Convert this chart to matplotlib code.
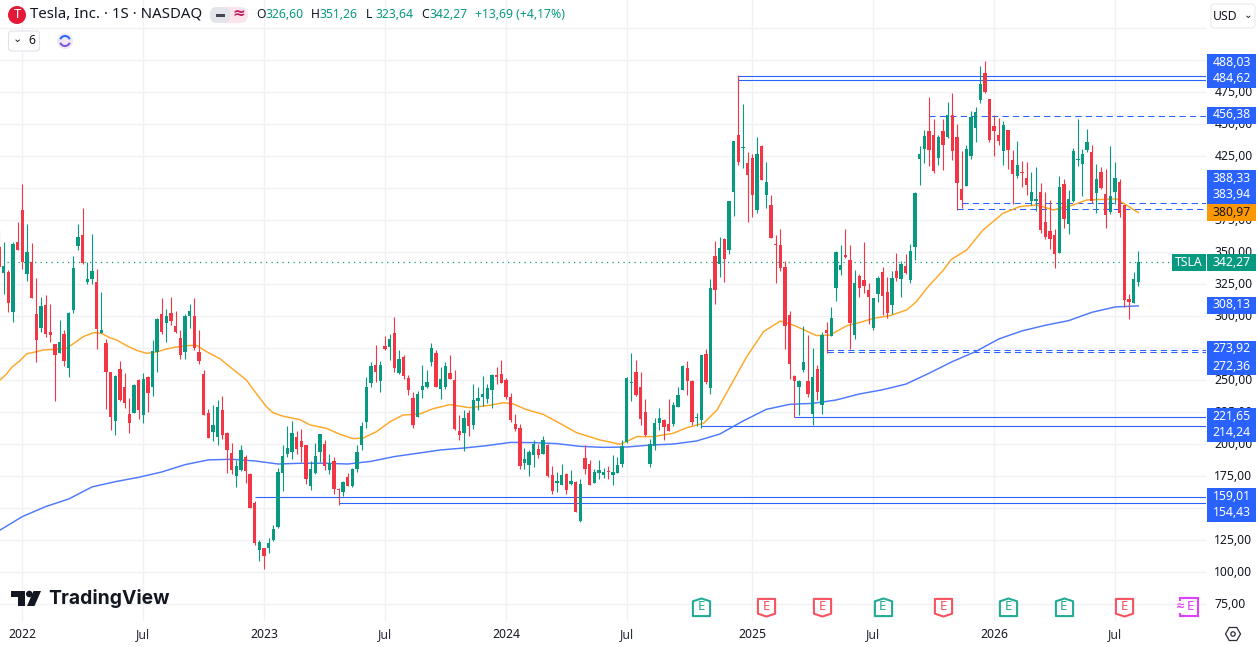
import numpy as np
import matplotlib
matplotlib.use('Agg')
import matplotlib.pyplot as plt
from matplotlib.patches import Rectangle, Circle, Polygon, FancyBboxPatch, RegularPolygon, Arc
from matplotlib.path import Path
from matplotlib.transforms import Affine2D, ScaledTranslation

plt.rcParams['font.family'] = ['Noto Sans', 'DejaVu Sans']

# weekly TSLA candles, week 0 is the first one of 2022
first_week = -5
last_week = 240

directions = (
    "rgrgr"
    "rgrrgrrrgr" "gggrggrgrr" "grrrgrgrgg" "rgrrrggrrr" "rggrrrggrr" "rgrggggggr"
    "rrgggrgrrg" "rgggggrgrg" "rgrrrggggr" "ggrrrgrggg" "ggrrrrrrgg" "grgrrggrgr"
    "grrgggrggg" "ggrrrgggrr" "gggrrggrgr" "grggrgrrgr" "grrrrrrggr" "grgrgggrrg"
    "rrrggrrgrg" "rggggrrgrg" "rrrggggrrr" "rgrrgrrggr" "rrrgrggggg" "rgrrggrrrg"
    "g"
)

highs = [
    367.4, 358.3, 336.2, 358.3, 373.9,
    403.4, 372.1, 357.3, 329.9, 315.1, 316.6, 309.6, 278.4, 297.1, 289.3,
    303.4, 347.1, 372.1, 384.6, 342.4, 364.3, 337.0, 319.0, 282.3, 256.8,
    254.2, 265.1, 255.7, 236.2, 247.1, 251.0, 255.7, 253.4, 281.5, 298.7,
    314.3, 305.7, 315.1, 304.2, 289.3, 301.8, 309.6, 314.3, 289.3, 258.1,
    227.6, 230.7, 234.6, 237.7, 209.6, 201.0, 187.8, 199.5, 191.7, 177.6,
    155.7, 125.3, 119.0, 126.8, 137.0, 181.2, 199.5, 214.3, 218.2, 210.4,
    212.0, 199.5, 187.0, 201.0, 208.1, 203.4, 192.4, 190.1, 165.9, 171.3,
    177.6, 181.5, 199.5, 217.5, 252.6, 264.3, 277.6, 265.1, 284.6, 286.2,
    299.5, 273.7, 269.8, 254.2, 240.9, 241.7, 262.0, 258.1, 279.2, 273.7,
    260.4, 264.3, 269.8, 258.1, 222.9, 226.8, 226.8, 247.1, 244.8, 253.4,
    247.1, 255.0, 260.4, 265.9, 251.8, 240.1, 223.7, 215.9, 197.1, 195.6,
    203.4, 200.2, 206.5, 200.2, 183.1, 178.4, 184.6, 177.6, 180.0, 171.3,
    172.9, 199.2, 187.8, 180.7, 187.8, 181.2, 183.1, 191.7, 190.4, 203.4,
    252.6, 271.3, 265.9, 256.5, 235.4, 204.1, 220.5, 228.4, 219.7, 235.4,
    233.0, 244.8, 262.0, 265.1, 250.2, 224.4, 269.8, 274.4, 329.1, 358.8,
    361.9, 361.1, 390.1, 436.9, 488.5, 465.8, 428.3, 426.8, 440.1, 433.8,
    420.5, 394.7, 363.5, 368.2, 343.2, 304.1, 254.1, 250.2, 292.4, 285.4,
    275.2, 261.9, 287.7, 295.5, 307.3, 351.0, 355.7, 368.2, 355.7, 336.2,
    333.1, 358.1, 326.0, 314.3, 331.5, 338.6, 330.7, 335.4, 349.5, 343.2,
    348.7, 356.5, 397.1, 433.1, 445.6, 471.4, 454.2, 441.7, 454.2, 467.4,
    474.5, 450.3, 429.2, 433.9, 460.4, 463.5, 495.6, 499.5, 469.8, 457.3,
    454.9, 452.6, 445.6, 430.0, 437.0, 421.4, 420.6, 412.8, 416.7, 404.2,
    397.1, 390.9, 368.2, 409.6, 407.3, 398.7, 431.5, 454.2, 430.7, 446.4,
    433.9, 419.0, 416.7, 415.1, 433.1, 420.6, 407.3, 387.0, 317.5, 334.6,
    351.26,
]

body_tops = [
    354.4, 339.3, 334.9, 356.5, 358.0,
    383.1, 350.2, 342.4, 301.8, 308.1, 308.8, 287.7, 278.4, 279.9, 286.2,
    302.8, 337.7, 362.0, 363.5, 329.1, 335.4, 326.8, 289.3, 279.2, 256.5,
    253.4, 258.8, 244.8, 223.7, 246.3, 250.2, 251.0, 252.6, 272.9, 297.9,
    301.8, 300.2, 302.6, 292.4, 283.1, 300.2, 304.2, 300.2, 272.1, 254.9,
    224.5, 215.1, 229.2, 226.8, 208.8, 193.2, 183.1, 195.6, 190.1, 176.8,
    154.2, 123.7, 119.0, 122.9, 133.8, 178.4, 190.9, 197.1, 208.8, 205.7,
    202.6, 199.5, 180.7, 190.9, 208.1, 200.2, 185.4, 187.0, 165.1, 170.6,
    174.5, 180.7, 194.0, 214.3, 244.8, 261.2, 262.0, 262.0, 276.8, 282.3,
    287.0, 266.7, 268.2, 251.8, 236.2, 239.3, 245.6, 248.7, 275.2, 271.4,
    251.0, 261.2, 255.7, 250.3, 210.4, 220.6, 224.5, 234.6, 236.2, 239.3,
    244.0, 254.2, 254.2, 254.9, 250.3, 237.0, 215.9, 212.8, 188.5, 194.0,
    200.2, 196.4, 203.4, 199.5, 176.0, 171.3, 176.0, 176.8, 171.3, 170.6,
    169.0, 189.3, 184.6, 178.4, 180.0, 178.6, 178.6, 178.4, 183.9, 198.7,
    251.8, 248.7, 256.5, 244.8, 225.2, 200.2, 216.6, 220.5, 218.9, 215.9,
    230.7, 238.5, 261.2, 259.6, 249.4, 221.3, 269.8, 270.5, 322.1, 347.1,
    353.3, 360.4, 390.1, 436.9, 441.6, 432.2, 419.7, 423.7, 426.8, 433.0,
    404.9, 386.9, 356.5, 355.7, 338.5, 301.0, 253.4, 249.4, 264.3, 249.4,
    252.6, 258.8, 285.4, 289.3, 298.7, 350.2, 340.1, 347.9, 344.0, 326.0,
    331.5, 328.4, 320.6, 314.3, 329.9, 334.6, 319.0, 329.9, 335.4, 340.9,
    339.3, 351.1, 396.4, 426.8, 440.9, 444.8, 441.7, 440.1, 444.8, 457.3,
    457.3, 440.1, 399.5, 430.7, 455.7, 459.6, 481.5, 490.1, 469.8, 448.7,
    441.7, 449.5, 445.6, 422.1, 418.2, 412.8, 408.1, 397.1, 391.7, 397.1,
    373.7, 366.7, 363.5, 401.0, 403.4, 391.7, 429.2, 422.9, 426.8, 436.2,
    428.4, 407.3, 412.8, 395.6, 394.0, 408.1, 404.9, 387.0, 313.6, 329.2,
    342.27,
]

body_bottoms = [
    338.8, 334.1, 310.7, 303.4, 351.8,
    342.2, 333.0, 314.3, 281.5, 290.9, 286.2, 285.4, 269.8, 271.3, 265.1,
    259.6, 305.0, 354.9, 341.4, 326.8, 329.1, 290.1, 287.0, 256.5, 221.3,
    218.2, 234.6, 232.3, 216.7, 224.5, 226.8, 222.9, 240.1, 244.8, 272.1,
    287.7, 294.8, 296.3, 287.7, 269.8, 272.1, 300.2, 275.2, 265.1, 222.9,
    205.0, 209.6, 205.7, 207.3, 195.6, 180.0, 175.3, 180.0, 179.2, 150.2,
    122.9, 117.4, 112.8, 119.0, 125.3, 135.4, 177.6, 192.4, 194.0, 196.3,
    197.9, 172.9, 167.4, 177.6, 194.0, 183.1, 180.0, 165.1, 164.3, 162.8,
    167.4, 167.4, 180.7, 199.5, 217.5, 247.9, 256.5, 249.5, 274.5, 276.0,
    259.6, 255.7, 253.4, 242.4, 215.1, 221.3, 242.4, 244.8, 264.3, 244.8,
    243.2, 244.8, 251.0, 212.0, 207.3, 208.9, 214.3, 215.1, 233.9, 237.0,
    235.4, 242.4, 252.6, 247.9, 237.0, 219.0, 212.0, 183.1, 185.4, 183.9,
    191.7, 191.7, 192.4, 175.3, 163.5, 169.8, 168.2, 164.3, 169.0, 147.1,
    140.1, 180.7, 168.2, 169.8, 177.6, 176.0, 178.1, 176.0, 177.9, 184.6,
    201.8, 247.9, 238.5, 219.8, 207.3, 184.6, 198.7, 216.6, 213.5, 210.4,
    215.9, 229.1, 242.4, 249.4, 217.4, 220.8, 219.0, 248.7, 244.0, 320.5,
    340.8, 344.8, 351.8, 397.1, 420.5, 431.7, 410.4, 394.7, 383.0, 406.5,
    394.7, 361.2, 355.7, 337.7, 292.4, 262.7, 249.4, 244.8, 258.0, 239.3,
    223.7, 240.9, 230.7, 286.9, 284.6, 322.1, 336.2, 346.4, 294.8, 285.4,
    322.1, 323.7, 315.1, 290.9, 317.5, 315.9, 302.6, 308.9, 329.9, 329.2,
    333.9, 328.4, 354.2, 422.9, 430.7, 430.0, 413.5, 423.7, 433.9, 440.1,
    429.2, 404.2, 390.9, 401.8, 425.3, 447.1, 469.0, 475.3, 437.8, 444.8,
    437.0, 429.2, 430.0, 411.2, 409.6, 412.0, 402.6, 390.1, 390.1, 367.4,
    362.0, 360.4, 348.7, 349.8, 376.0, 372.1, 390.1, 422.1, 419.0, 430.0,
    390.1, 396.4, 400.3, 379.2, 381.5, 397.1, 380.7, 312.8, 311.2, 310.4,
    326.60,
]

lows = [
    333.6, 317.4, 303.6, 295.6, 351.8,
    337.0, 327.6, 314.3, 264.3, 287.7, 283.8, 279.9, 234.1, 271.3, 261.2,
    252.6, 302.6, 351.8, 340.9, 325.2, 325.2, 274.5, 286.7, 227.6, 211.2,
    207.3, 233.8, 228.4, 208.8, 224.5, 219.8, 216.7, 225.2, 237.8, 256.5,
    286.2, 279.9, 293.2, 287.0, 266.7, 266.7, 290.9, 273.7, 262.7, 222.9,
    205.0, 202.6, 199.5, 204.2, 177.6, 176.8, 166.7, 179.2, 169.8, 150.2,
    121.3, 108.8, 102.6, 115.1, 124.5, 134.6, 163.5, 190.1, 188.5, 192.4,
    186.2, 169.0, 164.3, 176.8, 186.2, 180.0, 176.8, 161.2, 152.6, 159.4,
    167.4, 166.7, 178.4, 195.6, 212.8, 244.8, 248.7, 240.9, 273.7, 265.9,
    256.5, 254.9, 251.0, 238.5, 212.8, 221.3, 236.2, 244.0, 261.2, 244.8,
    235.4, 243.2, 251.0, 211.2, 203.4, 194.8, 206.5, 212.0, 226.8, 229.9,
    232.3, 228.4, 247.1, 247.9, 235.4, 217.4, 210.4, 180.7, 180.7, 175.3,
    182.3, 189.3, 192.4, 174.5, 161.2, 162.8, 168.2, 161.2, 168.2, 147.1,
    139.3, 176.8, 168.2, 169.8, 172.9, 173.4, 172.9, 168.2, 177.9, 182.3,
    201.0, 233.8, 237.7, 215.1, 206.5, 182.3, 195.5, 211.2, 203.4, 210.4,
    214.3, 229.1, 242.4, 238.5, 215.1, 214.3, 212.7, 247.1, 239.3, 309.6,
    330.7, 326.8, 348.7, 378.3, 418.2, 415.8, 373.6, 377.6, 380.7, 406.5,
    384.6, 361.2, 326.0, 335.4, 274.4, 251.0, 221.3, 222.9, 256.5, 236.9,
    215.1, 234.6, 223.7, 271.6, 284.6, 311.9, 332.3, 345.6, 274.5, 282.3,
    315.1, 318.2, 294.0, 289.3, 311.2, 301.0, 298.7, 301.8, 327.6, 315.1,
    333.1, 326.0, 344.0, 402.6, 419.8, 417.5, 412.0, 418.2, 414.3, 439.3,
    422.1, 383.1, 384.6, 401.8, 422.9, 436.2, 466.7, 474.5, 436.2, 425.3,
    433.9, 418.2, 415.1, 387.8, 408.1, 401.0, 394.8, 387.0, 382.3, 365.1,
    360.4, 352.6, 337.8, 349.5, 369.0, 364.3, 389.3, 417.5, 394.0, 428.4,
    388.5, 380.7, 399.5, 369.0, 379.9, 387.8, 377.6, 307.3, 298.0, 310.2,
    323.64,
]

# moving averages
ma_short_weeks = [-4.8, -3.4, -2.3, -0.5, 0.9, 3.1, 4.5, 7, 9.5, 11.3, 13.1, 15.3, 17, 18.8, 20.3, 22.4, 24.6,
                  26.7, 28.9, 31, 33.2, 35.3, 37.5, 39.6, 42.5, 45.3, 48.2, 50.4, 52.5, 53.9, 56.1, 59.7,
                  61.9, 65.4, 68.3, 71.2, 73.3, 76.2, 79.1, 81.9, 85.5, 88.4, 92, 96.2, 100.6, 103.4, 105.6,
                  108.4, 112, 115.6, 119.2, 124.2, 128.6, 132.2, 135.7, 140, 142.9, 146.5, 149.4, 152.2,
                  155.8, 159.4, 163, 165.8, 170.8, 173.7, 177.3, 180.2, 183, 186.6, 190.2, 192.3, 194.5,
                  198.1, 199.8, 203.1, 206.6, 210.9, 214.5, 218.1, 221.7, 226, 228.9, 235.3, 237.4, 240]
ma_short = [250.2, 254.9, 260.1, 265.3, 270.6, 272.4, 273.7, 274.2, 275.0, 279.4, 284.1, 287.2, 286.7, 283.3, 281.5, 277.1, 273.4,
            271.1, 272.1, 274.5, 276.0, 277.1, 277.3, 272.4, 266.9, 258.6, 250.2, 239.3, 229.4, 224.7, 221.9, 219.3,
            215.1, 212.5, 207.8, 204.4, 204.9, 209.9, 217.7, 222.9, 223.7, 227.9, 231.0, 228.6, 230.5, 232.5, 231.5,
            227.1, 223.4, 216.4, 209.1, 203.4, 200.0, 206.0, 206.0, 208.6, 213.0, 216.4, 226.8, 245.0,
            268.5, 288.0, 296.3, 293.2, 284.9, 285.4, 292.6, 295.3, 298.4, 300.5, 305.0, 311.5, 321.9,
            336.2, 344.5, 351.8, 367.4, 380.5, 385.7, 387.0, 383.1, 387.0, 390.9, 391.7, 387.0, 380.97]

ma_long_weeks = [-5, 0, 5, 10, 15, 20, 25, 30, 35, 40, 45, 50, 55, 60, 65, 70, 75, 80, 85, 90,
                 95, 100, 105, 110, 115, 120, 125, 130, 135, 140, 145, 150, 155, 160, 165, 170,
                 175, 180, 185, 190, 195, 200, 205, 210, 215, 220, 225, 230, 235, 240]
ma_long = [132.5, 143.5, 151.3, 157.3, 166.7, 170.8, 174.2, 178.4, 184.1, 187.8, 188.3, 187.0, 184.6,
           185.2, 185.2, 184.6, 186.7, 190.4, 193.0, 195.6, 197.1, 199.0, 201.5, 201.3, 200.5, 198.4,
           197.6, 197.9, 199.4, 200.2, 202.6, 208.0, 218.2, 227.3, 231.2, 232.0, 234.6, 239.3,
           242.6, 247.0, 255.5, 264.6, 272.4, 282.3, 288.6, 293.0, 296.6, 303.1, 307.3, 308.13]

# horizontal levels and the week each one starts from
solid_levels = [488.03, 484.62, 221.65, 214.24, 159.01, 154.43]
solid_starts = [154, 154, 166, 146, 50, 68]
dashed_levels = [456.38, 388.33, 383.94, 273.92, 272.36]
dashed_starts = [195, 202, 201, 173, 173]
last_price = 342.27

price_ticks = list(range(75, 526, 25))
year_ticks = [0, 26, 52, 78, 104, 130, 157, 183, 209, 235]
year_labels = ['2022', 'Jul', '2023', 'Jul', '2024', 'Jul', '2025', 'Jul', '2026', 'Jul']

earnings_up = [146, 185, 212, 224]
earnings_down = [160, 172, 198, 237]
earnings_next = 251

GREEN = '#089981'
RED = '#f23645'
BLUE = '#2962ff'
ORANGE = '#ff9800'
TEXT = '#131722'
GRID = '#f0f1f4'

W, H = 1258, 647
PLOT_R, PLOT_B = 1206, 621

fig = plt.figure(figsize=(W / 100, H / 100), dpi=100, facecolor='white')
ax = fig.add_axes([0, 1 - PLOT_B / H, PLOT_R / W, PLOT_B / H])

# pixel coordinates with y going down, for the chart furniture
px = Affine2D().scale(1, -1).translate(0, H)

ax.set_xlim((0 - 22.3) / 4.65, (PLOT_R - 22.3) / 4.65)
ax.set_ylim(75 + (604.3 - PLOT_B) / 1.28, 75 + 604.3 / 1.28)
right = ax.get_xlim()[1]

for s in ax.spines.values():
    s.set_visible(False)
ax.set_axisbelow(True)
ax.grid(True, color=GRID, lw=1.0)
ax.set_xticks(year_ticks)
ax.set_xticklabels(year_labels)
ax.set_yticks(price_ticks)
ax.set_yticklabels([f'{p},00' if p <= 500 else '' for p in price_ticks])
ax.yaxis.tick_right()
ax.tick_params(axis='y', length=0, pad=6, labelsize=8.8, labelcolor=TEXT)
ax.tick_params(axis='x', length=0, pad=5, labelsize=8.8, labelcolor='#2a2e39')
for lbl, txt in zip(ax.get_xticklabels(), year_labels):
    if txt != 'Jul':
        lbl.set_fontweight('medium')
        lbl.set_color(TEXT)
nudge = ScaledTranslation(0, 1 / 100, fig.dpi_scale_trans)
for lbl in ax.get_yticklabels():
    lbl.set_transform(lbl.get_transform() + nudge)

ax.hlines(solid_levels, solid_starts, right, color=BLUE, lw=0.8, zorder=2)
ax.hlines(dashed_levels, dashed_starts, right, color=BLUE, lw=0.75, linestyles=[(0, (6, 4))], zorder=2)
ax.hlines(last_price, (7 - 22.3) / 4.65, right, color=GREEN, lw=0.9, linestyles=[(0, (1, 3.4))], zorder=2)

ax.plot(ma_short_weeks, ma_short, color='#ffa726', lw=1.05, zorder=3)
ax.plot(ma_long_weeks, ma_long, color='#4d78ff', lw=1.05, zorder=3)

weeks = np.arange(first_week, last_week + 1)
colors = [GREEN if d == 'g' else RED for d in directions]
tops = np.array(body_tops)
bottoms = np.array(body_bottoms)
ax.vlines(weeks, lows, highs, colors=colors, lw=0.8, zorder=4)
ax.bar(weeks, np.maximum(tops - bottoms, 0.8), bottom=bottoms, width=0.72, color=colors, lw=0, zorder=5)

# earnings flags along the bottom
up_path = Path([(-1, -1), (1, -1), (1, 0.72), (0, 1.05), (-1, 0.72), (-1, -1)], closed=True)
down_path = Path([(-1, 1), (1, 1), (1, -0.72), (0, -1.05), (-1, -0.72), (-1, 1)], closed=True)
flag_y = 73.0
ax.plot(earnings_up, [flag_y] * len(earnings_up), ls='', marker=up_path, ms=13, mfc='white', mec='#22ab94', mew=1.5, zorder=6)
ax.plot(earnings_down, [flag_y] * len(earnings_down), ls='', marker=down_path, ms=13, mfc='white', mec='#f7525f', mew=1.5, zorder=6)
for w in earnings_up:
    ax.text(w, flag_y, 'E', color='#22ab94', fontsize=9.5, fontweight='bold', ha='center', va='center', zorder=7)
for w in earnings_down:
    ax.text(w, flag_y, 'E', color='#f7525f', fontsize=9.5, fontweight='bold', ha='center', va='center', zorder=7)
ax.plot([earnings_next], [flag_y], ls='', marker='s', ms=12.5, mfc='white', mec='#e040fb', mew=1.5, zorder=6)
ax.text(earnings_next + 0.3, flag_y, 'E', color='#e040fb', fontsize=9.5, fontweight='bold', ha='center', va='center', zorder=7)
ax.text(earnings_next - 1.9, flag_y, '≈', color='#e040fb', fontsize=8, fontweight='bold', ha='center', va='center', zorder=7,
        bbox=dict(fc='white', ec='none', pad=0.2))


def add(patch):
    patch.set_transform(px)
    fig.add_artist(patch)
    return patch


def label(x, y, s, **kw):
    kw.setdefault('va', 'center')
    kw.setdefault('fontsize', 8.8)
    kw.setdefault('color', TEXT)
    return fig.text(x, y, s, transform=px, **kw)


def price_tag(y0, y1, s, bg=BLUE, fg='white'):
    add(Rectangle((1207, y0), 49, y1 - y0, fc=bg, ec='none', zorder=3))
    label(1231.5, (y0 + y1) / 2 - 0.5, s, color=fg, ha='center', zorder=4)


# header
add(Circle((17, 15), 9, fc='#e31937', ec='none', zorder=3))
label(17, 14.5, 'T', color='white', ha='center', fontsize=9.5, fontweight='bold', zorder=4)
label(30, 14.5, 'Tesla, Inc. · 1S · NASDAQ', fontsize=10.8)
add(FancyBboxPatch((210, 7), 38, 16, boxstyle='round,pad=0,rounding_size=8', fc='#fce4ec', ec='none', zorder=3))
add(FancyBboxPatch((210, 7), 20, 16, boxstyle='round,pad=0,rounding_size=7', fc='#e3e5ea', ec='none', zorder=3))
add(Rectangle((216, 13.5), 9, 3, fc='#434651', ec='none', zorder=4))
label(239, 14, '≈', color='#c2185b', ha='center', fontsize=11, fontweight='bold', zorder=4)

hx = 256
for head, val in [('O', '326,60'), ('H', '351,26'), ('L', '323,64'), ('C', '342,27')]:
    label(hx, 15, head, zorder=4)
    label(hx + 9, 15, val, color=GREEN, zorder=4)
    hx += 55
label(475, 15, '+13,69 (+4,17%)', color=GREEN)

add(FancyBboxPatch((8.5, 31), 31, 20, boxstyle='round,pad=0,rounding_size=3', fc='white', ec='#e0e3eb', lw=0.8, zorder=3))
label(17.5, 40, '⌄', ha='center', fontsize=8, zorder=4, va='center')
label(31.5, 41, '6', ha='center', zorder=4)
add(Circle((65, 41), 8, fc='#ede7f6', ec='none', zorder=3))
add(Arc((65, 41), 10, 10, theta1=20, theta2=160, ec='#7b4fe0', lw=1.4, zorder=4))
add(Arc((65, 41), 10, 10, theta1=200, theta2=340, ec='#2962ff', lw=1.4, zorder=4))

add(FancyBboxPatch((1211, 4), 44, 24, boxstyle='round,pad=0,rounding_size=4', fc='white', ec='#e8eaee', lw=0.8, zorder=3))
label(1225, 16, 'USD', ha='center', zorder=4)
label(1248, 15, '⌄', ha='center', fontsize=7.5, zorder=4)

# price tags on the axis
price_tag(54, 71, '488,03')
price_tag(71, 88, '484,62')
price_tag(107, 124, '456,38')
price_tag(170, 187, '388,33')
price_tag(187, 204, '383,94')
price_tag(204, 221, '380,97', bg=ORANGE, fg=TEXT)
price_tag(254, 271, '342,27', bg=GREEN)
add(Rectangle((1172, 254), 34, 17, fc=GREEN, ec='none', zorder=3))
label(1189, 262.5, 'TSLA', color='white', ha='center', zorder=4)
price_tag(297, 314, '308,13')
price_tag(341, 358, '273,92')
price_tag(358, 375, '272,36')
price_tag(408, 425, '221,65')
price_tag(425, 442, '214,24')
price_tag(488, 505, '159,01')
price_tag(505, 522, '154,43')

# settings icon
add(RegularPolygon((1233, 634), 6, radius=7.5, orientation=np.pi / 2, fc='white', ec='#2a2e39', lw=0.9, zorder=3))
add(Circle((1233, 634), 2.2, fc='white', ec='#2a2e39', lw=0.9, zorder=4))

# TradingView logo
add(Polygon([(11, 591), (25, 591), (25, 606), (18, 606), (18, 597), (11, 597)], fc='#131722', ec='none', zorder=6))
add(Circle((29.3, 594), 3.3, fc='#131722', ec='none', zorder=6))
add(Polygon([(33.5, 591), (41, 591), (34.5, 606), (27, 606)], fc='#131722', ec='none', zorder=6))
fig.text(48, 599, 'TradingView', transform=px, va='center', fontsize=13.9, fontweight='bold', family=['Inter', 'DejaVu Sans'], color='#131722', zorder=6)

fig.savefig('out.png', dpi=100, facecolor='white')
